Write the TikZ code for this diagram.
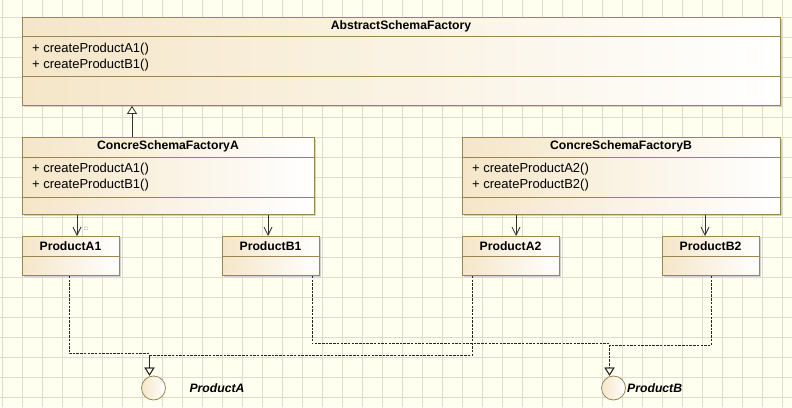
\documentclass[tikz,border=0pt]{standalone}
\usepackage{fontspec}
\setmainfont{Liberation Sans}
\usetikzlibrary{arrows.meta,calc,shadows}
\definecolor{bgc}{RGB}{255,255,240}
\definecolor{gridc}{RGB}{220,220,208}
\definecolor{brd}{RGB}{156,133,83}
\definecolor{tanL}{RGB}{245,230,200}
\tikzset{
  umlbox/.style={draw=brd, line width=0.9pt, left color=tanL, right color=white,
    inner sep=0pt, anchor=north west,
    drop shadow={shadow xshift=1.2pt, shadow yshift=-1.2pt, opacity=0.35, fill=gray}},
  sepline/.style={draw=brd, line width=0.8pt},
  ttl/.style={font=\fontsize{12.2}{14}\selectfont\bfseries, inner sep=0pt},
  mth/.style={font=\fontsize{13}{15}\selectfont, inner sep=0pt, anchor=west},
  gen/.style={draw=black!80, line width=0.8pt, -{Triangle[open, width=10pt, length=8pt]}},
  dep/.style={draw=black!80, line width=0.8pt, -{Straight Barb[width=8pt, length=8pt]}},
  real/.style={draw=black!85, line width=0.8pt, dash pattern=on 2.5pt off 1.2pt, -{Triangle[open, width=10pt, length=8pt]}},
  iface/.style={circle, draw=brd, line width=0.8pt, left color=tanL, right color=white, minimum size=24pt, inner sep=0pt},
  ilabel/.style={font=\fontsize{12.2}{14}\selectfont\bfseries\itshape, inner sep=0pt}
}
\begin{document}
\begin{tikzpicture}[x=1pt,y=-1pt]
\useasboundingbox (0,0) rectangle (792,407);
\fill[bgc] (0,0) rectangle (792,407);
\foreach \gx in {2,22,...,782} \draw[gridc, line width=0.7pt] (\gx,0) -- (\gx,407);
\foreach \gy in {17,37,...,397} \draw[gridc, line width=0.7pt] (0,\gy) -- (792,\gy);

% AbstractSchemaFactory
\node[umlbox, minimum width=758pt, minimum height=88pt] (abs) at (22,17) {};
\draw[sepline] (22,36) -- (780,36);
\draw[sepline] (22,76) -- (780,76);
\node[ttl] (absT) at (401,26.5) {AbstractSchemaFactory};
\node[mth] (absM1) at (32,49) {+ createProductA1()};
\node[mth] (absM2) at (32,65) {+ createProductB1()};

% ConcreSchemaFactoryA
\node[umlbox, minimum width=292pt, minimum height=77pt] (cA) at (22,137) {};
\draw[sepline] (22,157) -- (314,157);
\draw[sepline] (22,197) -- (314,197);
\node[ttl] (cAT) at (168,146.5) {ConcreSchemaFactoryA};
\node[mth] (cAM1) at (32,169.5) {+ createProductA1()};
\node[mth] (cAM2) at (32,185.5) {+ createProductB1()};

% ConcreSchemaFactoryB
\node[umlbox, minimum width=318pt, minimum height=77pt] (cB) at (462,137) {};
\draw[sepline] (462,157) -- (780,157);
\draw[sepline] (462,197) -- (780,197);
\node[ttl] (cBT) at (621,146.5) {ConcreSchemaFactoryB};
\node[mth] (cBM1) at (472,169.5) {+ createProductA2()};
\node[mth] (cBM2) at (472,185.5) {+ createProductB2()};

% Products
\node[umlbox, minimum width=97pt, minimum height=39pt] (pA1) at (22,236) {};
\draw[sepline] (22,256) -- (119,256);
\node[ttl] (pA1T) at (70.5,246) {ProductA1};
\node[umlbox, minimum width=97pt, minimum height=39pt] (pB1) at (222,236) {};
\draw[sepline] (222,256) -- (319,256);
\node[ttl] (pB1T) at (270.5,246) {ProductB1};
\node[umlbox, minimum width=97pt, minimum height=39pt] (pA2) at (462,236) {};
\draw[sepline] (462,256) -- (559,256);
\node[ttl] (pA2T) at (510.5,246) {ProductA2};
\node[umlbox, minimum width=97pt, minimum height=39pt] (pB2) at (662,236) {};
\draw[sepline] (662,256) -- (759,256);
\node[ttl] (pB2T) at (710.5,246) {ProductB2};

% Interfaces
\node[iface] (iA) at (153.5,388) {};
\node[ilabel] (iAL) at (217,388) {ProductA};
\node[iface] (iB) at (613.5,388) {};
\node[ilabel, anchor=west] (iBL) at (627,388) {ProductB};

% generalization
\draw[gen] ([xshift=110pt]cA.north west) -- ([xshift=110pt]cA.north west |- abs.south);

% dependencies
\draw[dep] ([xshift=55pt]cA.south west) -- ([xshift=55pt]cA.south west |- pA1.north);
\node[font=\fontsize{6}{6}\selectfont, text=blue!50!gray, inner sep=0pt] (dots) at (86,229) {:::};
\draw[dep] ([xshift=246pt]cA.south west) -- ([xshift=246pt]cA.south west |- pB1.north);
\draw[dep] ([xshift=54pt]cB.south west) -- ([xshift=54pt]cB.south west |- pA2.north);
\draw[dep] ([xshift=243pt]cB.south west) -- ([xshift=243pt]cB.south west |- pB2.north);

% realizations
\draw[real] ([xshift=47pt]pA1.south west) |- ($(iA.north)+(-4,-22)$) -- ([xshift=-4pt]iA.north);
\draw[real] ([xshift=10pt]pA2.south west) |- ($(iA.north)+(-4,-20)$) -- ([xshift=-4pt]iA.north);
\draw[real] ([xshift=90pt]pB1.south west) |- ($(iB.north)+(-4,-32)$) -- ([xshift=-4pt]iB.north);
\draw[real] ([xshift=49pt]pB2.south west) |- ($(iB.north)+(-4,-30)$) -- ([xshift=-4pt]iB.north);
\end{tikzpicture}
\end{document}
